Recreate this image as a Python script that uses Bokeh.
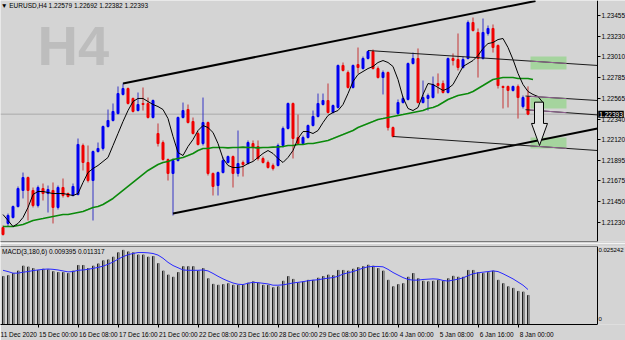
from bokeh.plotting import figure
from bokeh.layouts import column
from bokeh.models import Range1d, FixedTicker, LinearAxis, Label, ColumnDataSource
from bokeh.embed import file_html
from bokeh.resources import INLINE

BG = "#d4d4d4"
FONT = "Liberation Sans"
FS = "6.5px"
BULL = "#0000f0"
BEAR = "#f00000"

title_text = "EURUSD,H4 1.22579 1.22692 1.22382 1.22393"
macd_text = "MACD(3,180,6) 0.009395 0.011317"

open_ = [
    1.21173, 1.21217, 1.21281, 1.21399, 1.21572, 1.21711, 1.21572, 1.21410, 1.21593, 1.21539,
    1.21572, 1.21389, 1.21604, 1.21539, 1.21518, 1.21529, 1.22056, 1.21873, 1.21679, 1.21991,
    1.22024, 1.22260, 1.22325, 1.22400, 1.22605, 1.22669, 1.22562, 1.22432, 1.22508, 1.22508,
    1.22357, 1.22185, 1.22088, 1.21905, 1.21755, 1.21894, 1.22357, 1.22443, 1.22314, 1.22185,
    1.22077, 1.22303, 1.21755, 1.21625, 1.21765, 1.21873, 1.21937, 1.21755, 1.21873, 1.21862,
    1.22077, 1.22045, 1.21916, 1.21873, 1.21841, 1.21841, 1.22056, 1.22239, 1.22508, 1.22142,
    1.22077, 1.22142, 1.22271, 1.22368, 1.22497, 1.22540, 1.22411, 1.22465, 1.22917, 1.22841,
    1.22680, 1.22927, 1.22884, 1.22992, 1.23067, 1.22884, 1.22787, 1.22841, 1.22249, 1.22400,
    1.22518, 1.22551, 1.22938, 1.22992, 1.22518, 1.22562, 1.22572, 1.22723, 1.22723, 1.22626,
    1.22992, 1.22981, 1.22895, 1.22992, 1.23379, 1.23272, 1.22992, 1.23261, 1.23315, 1.23132,
    1.22691, 1.22691, 1.22648, 1.22691, 1.22475, 1.22579]
high = [
    1.21195, 1.21324, 1.21410, 1.21615, 1.21765, 1.21722, 1.21604, 1.21625, 1.21647, 1.21625,
    1.21658, 1.21625, 1.21701, 1.21550, 1.21647, 1.22131, 1.22077, 1.22056, 1.22002, 1.22088,
    1.22271, 1.22443, 1.22508, 1.22691, 1.22723, 1.22680, 1.22572, 1.22626, 1.22680, 1.22572,
    1.22551, 1.22293, 1.22110, 1.21916, 1.21916, 1.22368, 1.22518, 1.22497, 1.22357, 1.22206,
    1.22572, 1.22314, 1.21765, 1.21776, 1.21927, 1.21948, 1.21948, 1.22217, 1.21894, 1.22110,
    1.22110, 1.22110, 1.21937, 1.21894, 1.21862, 1.22077, 1.22260, 1.22518, 1.22518, 1.22389,
    1.22163, 1.22282, 1.22432, 1.22615, 1.22615, 1.22723, 1.22497, 1.22927, 1.22949, 1.22863,
    1.22927, 1.23110, 1.23013, 1.23078, 1.23089, 1.22906, 1.22863, 1.22852, 1.22260, 1.22551,
    1.22583, 1.22949, 1.23056, 1.23100, 1.22755, 1.22615, 1.22798, 1.22831, 1.22755, 1.23003,
    1.23046, 1.23261, 1.23013, 1.23401, 1.23433, 1.23315, 1.23422, 1.23347, 1.23358, 1.23143,
    1.22701, 1.22701, 1.22701, 1.22712, 1.22594, 1.22692]
low = [
    1.21087, 1.21184, 1.21270, 1.21389, 1.21486, 1.21249, 1.21389, 1.21389, 1.21464, 1.21335,
    1.21217, 1.21367, 1.21496, 1.21496, 1.21507, 1.21518, 1.21787, 1.21658, 1.21249, 1.21980,
    1.22002, 1.22249, 1.22314, 1.22389, 1.22594, 1.22497, 1.22411, 1.22422, 1.22432, 1.22346,
    1.22346, 1.22045, 1.21894, 1.21679, 1.21303, 1.21884, 1.22346, 1.22293, 1.22174, 1.22056,
    1.22056, 1.21733, 1.21518, 1.21518, 1.21755, 1.21862, 1.21604, 1.21722, 1.21722, 1.21851,
    1.21894, 1.21894, 1.21862, 1.21808, 1.21787, 1.21830, 1.22034, 1.22228, 1.21916, 1.22067,
    1.22067, 1.22131, 1.22260, 1.22357, 1.22486, 1.22400, 1.22400, 1.22454, 1.22852, 1.22669,
    1.22669, 1.22831, 1.22874, 1.22981, 1.22874, 1.22777, 1.22605, 1.22217, 1.22142, 1.22379,
    1.22508, 1.22540, 1.22927, 1.22508, 1.22508, 1.22432, 1.22562, 1.22615, 1.22615, 1.22615,
    1.22917, 1.22863, 1.22884, 1.22981, 1.23282, 1.22787, 1.22981, 1.23239, 1.23056, 1.22669,
    1.22454, 1.22465, 1.22637, 1.22346, 1.22454, 1.22382]
close_ = [
    1.21098, 1.21303, 1.21399, 1.21593, 1.21711, 1.21572, 1.21410, 1.21604, 1.21539, 1.21582,
    1.21389, 1.21604, 1.21518, 1.21507, 1.21615, 1.22067, 1.21873, 1.21679, 1.21991, 1.22024,
    1.22260, 1.22325, 1.22422, 1.22615, 1.22669, 1.22508, 1.22422, 1.22497, 1.22497, 1.22357,
    1.22540, 1.22077, 1.21905, 1.21755, 1.21894, 1.22357, 1.22432, 1.22303, 1.22185, 1.22067,
    1.22303, 1.21755, 1.21615, 1.21765, 1.21894, 1.21937, 1.21755, 1.21862, 1.21851, 1.22088,
    1.22034, 1.21916, 1.21873, 1.21819, 1.21808, 1.22056, 1.22239, 1.22508, 1.22131, 1.22077,
    1.22142, 1.22271, 1.22368, 1.22508, 1.22540, 1.22411, 1.22486, 1.22917, 1.22863, 1.22680,
    1.22917, 1.22895, 1.22992, 1.23067, 1.22884, 1.22787, 1.22841, 1.22249, 1.22153, 1.22518,
    1.22562, 1.22938, 1.22992, 1.22518, 1.22572, 1.22594, 1.22712, 1.22701, 1.22626, 1.22992,
    1.22970, 1.22895, 1.22981, 1.23379, 1.23293, 1.22992, 1.23272, 1.23315, 1.23110, 1.22701,
    1.22680, 1.22648, 1.22691, 1.22572, 1.22572, 1.22393]

ma_fast = [
    1.21313, 1.21249, 1.21184, 1.21217, 1.21281, 1.21389, 1.21529, 1.21561, 1.21561, 1.21550,
    1.21539, 1.21539, 1.21539, 1.21529, 1.21518, 1.21539, 1.21658, 1.21765, 1.21808, 1.21841,
    1.21884, 1.21927, 1.22056, 1.22185, 1.22314, 1.22432, 1.22529, 1.22562, 1.22562, 1.22529,
    1.22497, 1.22475, 1.22443, 1.22346, 1.22153, 1.21980, 1.21948, 1.22045, 1.22120, 1.22217,
    1.22271, 1.22249, 1.22196, 1.22077, 1.21916, 1.21841, 1.21819, 1.21819, 1.21830, 1.21862,
    1.21884, 1.21927, 1.21970, 1.22002, 1.21970, 1.21916, 1.21873, 1.21927, 1.22002, 1.22131,
    1.22206, 1.22206, 1.22185, 1.22217, 1.22303, 1.22379, 1.22411, 1.22432, 1.22497, 1.22615,
    1.22744, 1.22820, 1.22852, 1.22884, 1.22906, 1.22949, 1.22970, 1.22949, 1.22906, 1.22766,
    1.22572, 1.22454, 1.22432, 1.22465, 1.22605, 1.22723, 1.22712, 1.22680, 1.22648, 1.22669,
    1.22712, 1.22809, 1.22906, 1.22938, 1.22970, 1.23024, 1.23100, 1.23153, 1.23164, 1.23196,
    1.23207, 1.23110, 1.22981, 1.22831, 1.22712, 1.22637, 1.22605, 1.22583, 1.22518]
ma_slow = [
    1.21184, 1.21184, 1.21184, 1.21195, 1.21206, 1.21227, 1.21249, 1.21260, 1.21270, 1.21281,
    1.21292, 1.21303, 1.21313, 1.21313, 1.21324, 1.21335, 1.21346, 1.21367, 1.21389, 1.21399,
    1.21421, 1.21453, 1.21486, 1.21529, 1.21572, 1.21615, 1.21658, 1.21701, 1.21744, 1.21787,
    1.21819, 1.21851, 1.21873, 1.21884, 1.21905, 1.21916, 1.21927, 1.21948, 1.21970, 1.22002,
    1.22024, 1.22024, 1.22034, 1.22034, 1.22034, 1.22030, 1.22034, 1.22034, 1.22038, 1.22034,
    1.22034, 1.22030, 1.22034, 1.22034, 1.22038, 1.22040, 1.22045, 1.22056, 1.22056, 1.22067,
    1.22067, 1.22077, 1.22077, 1.22088, 1.22099, 1.22110, 1.22131, 1.22153, 1.22174, 1.22196,
    1.22217, 1.22249, 1.22271, 1.22293, 1.22314, 1.22336, 1.22346, 1.22357, 1.22368, 1.22379,
    1.22389, 1.22400, 1.22411, 1.22422, 1.22432, 1.22454, 1.22465, 1.22486, 1.22518, 1.22551,
    1.22572, 1.22594, 1.22605, 1.22615, 1.22637, 1.22669, 1.22701, 1.22734, 1.22766, 1.22777,
    1.22787, 1.22787, 1.22787, 1.22777, 1.22777, 1.22777, 1.22766]

macd_hist = [
    0.0155, 0.0158, 0.0165, 0.0173, 0.0189, 0.0186, 0.0181, 0.0175, 0.0179, 0.0177,
    0.0171, 0.0168, 0.0168, 0.0165, 0.0173, 0.0191, 0.0191, 0.0181, 0.0189, 0.0196,
    0.0206, 0.0209, 0.0218, 0.0232, 0.0240, 0.0235, 0.0232, 0.0225, 0.0225, 0.0218,
    0.0220, 0.0197, 0.0173, 0.0160, 0.0153, 0.0168, 0.0187, 0.0187, 0.0187, 0.0173,
    0.0181, 0.0148, 0.0130, 0.0127, 0.0129, 0.0132, 0.0127, 0.0127, 0.0127, 0.0134,
    0.0138, 0.0134, 0.0127, 0.0127, 0.0119, 0.0122, 0.0140, 0.0155, 0.0146, 0.0135,
    0.0138, 0.0143, 0.0143, 0.0150, 0.0155, 0.0160, 0.0158, 0.0175, 0.0175, 0.0173,
    0.0179, 0.0184, 0.0187, 0.0192, 0.0189, 0.0181, 0.0173, 0.0143, 0.0122, 0.0129,
    0.0132, 0.0153, 0.0165, 0.0148, 0.0140, 0.0138, 0.0140, 0.0143, 0.0140, 0.0148,
    0.0156, 0.0153, 0.0153, 0.0175, 0.0175, 0.0168, 0.0165, 0.0168, 0.0173, 0.0143,
    0.0132, 0.0122, 0.0117, 0.0107, 0.0105, 0.009395]
macd_signal = [
    0.01754, 0.01713, 0.01662, 0.01662, 0.01693, 0.01713, 0.01744, 0.01765, 0.01785, 0.01796,
    0.01785, 0.01765, 0.01734, 0.01703, 0.01713, 0.01754, 0.01765, 0.01785, 0.01816, 0.01847,
    0.01888, 0.01949, 0.02021, 0.02114, 0.02196, 0.02257, 0.02298, 0.02329, 0.02329, 0.02319,
    0.02298, 0.02247, 0.02144, 0.02011, 0.01908, 0.01837, 0.01765, 0.01754, 0.01754, 0.01754,
    0.01765, 0.01734, 0.01652, 0.01560, 0.01477, 0.01406, 0.01344, 0.01303, 0.01293, 0.01334,
    0.01365, 0.01354, 0.01334, 0.01313, 0.01272, 0.01272, 0.01283, 0.01313, 0.01344, 0.01365,
    0.01385, 0.01416, 0.01436, 0.01447, 0.01477, 0.01498, 0.01518, 0.01560, 0.01631, 0.01672,
    0.01713, 0.01765, 0.01826, 0.01867, 0.01878, 0.01878, 0.01867, 0.01785, 0.01683, 0.01600,
    0.01518, 0.01457, 0.01436, 0.01436, 0.01457, 0.01467, 0.01477, 0.01467, 0.01426, 0.01406,
    0.01436, 0.01467, 0.01508, 0.01580, 0.01642, 0.01672, 0.01693, 0.01713, 0.01734, 0.01713,
    0.01642, 0.01560, 0.01477, 0.01375, 0.01272, 0.011317]

price_ticks = [1.23455, 1.23230, 1.23010, 1.22785, 1.22565, 1.22340,
               1.22120, 1.21895, 1.21675, 1.21450, 1.21230, 1.21005]
last_price = 1.22393
macd_top_label = "0.025242"

time_tick_bars = [-1, 7, 15, 23, 31, 39, 47, 55, 63, 71, 79, 87, 95, 103]
time_tick_labels = ["11 Dec 2020", "15 Dec 00:00", "16 Dec 08:00", "17 Dec 16:00",
                    "21 Dec 00:00", "22 Dec 08:00", "23 Dec 16:00", "28 Dec 00:00",
                    "29 Dec 08:00", "30 Dec 16:00", "4 Jan 00:00", "5 Jan 08:00",
                    "6 Jan 16:00", "8 Jan 00:00"]

# drawn objects (bar index, price)
trend_top = ([24, 106.5], [1.22723, 1.23611])
trend_bottom = ([34, 118.9], [1.21324, 1.22238])
thin_lines = [
    ([73, 118.9], [1.23078, 1.22917]),
    ([78, 118.9], [1.22153, 1.22002]),
    ([104.5, 118.9], [1.22588, 1.22540]),
    ([104.5, 118.9], [1.22441, 1.22385]),
]
box_left = [105.5, 105.5, 105.5]
box_right = [112.7, 112.7, 112.7]
box_top = [1.23013, 1.22572, 1.22142]
box_bottom = [1.22874, 1.22454, 1.22024]
arrow_x = [106.3, 108.1, 108.1, 108.9, 107.3, 105.7, 106.3]
arrow_y = [1.22522, 1.22522, 1.22293, 1.22293, 1.22056, 1.22293, 1.22293]

AXIS_X = 118.9          # bar-index position of the price scale line
X_END = 124.5           # right edge of the window in bar units

# ---------------- main price panel ----------------
n = len(close_)
idx = list(range(n))
is_bull = [c >= o for o, c in zip(open_, close_)]
src = ColumnDataSource(dict(
    x=idx,
    top=[max(o, c) for o, c in zip(open_, close_)],
    bottom=[min(o, c) for o, c in zip(open_, close_)],
    high=high, low=low,
    color=[BULL if b else BEAR for b in is_bull],
    wick=["#3434c4" if b else "#c43434" for b in is_bull],
))

xr = Range1d(-0.5, X_END)
p = figure(width=625, height=243, x_range=xr, y_range=Range1d(1.21023, 1.23616),
           output_backend="svg", toolbar_location=None,
           y_axis_location="right", x_axis_location="below",
           min_border_left=0, min_border_top=0, min_border_bottom=2, min_border_right=0,
           background_fill_color=BG, border_fill_color=BG, outline_line_color=None)
p.grid.visible = False

yax = p.right[0]
yax.fixed_location = AXIS_X
yax.ticker = FixedTicker(ticks=price_ticks)
yax.major_label_overrides = {t: f"{t:.5f}" for t in price_ticks}
yax.major_label_text_font_size = FS
yax.major_label_text_font = FONT
yax.major_label_text_color = "black"
yax.major_tick_out = 3
yax.major_tick_in = 0
yax.minor_tick_out = 0
yax.minor_tick_in = 0
yax.major_label_standoff = 1
yax.axis_line_color = "black"
yax.major_tick_line_color = "black"

xax = p.below[0]
xax.ticker = FixedTicker(ticks=[])
xax.bounds = (-0.5, AXIS_X)
xax.axis_line_color = "#7a7a7a"
xax.major_tick_out = 0
xax.major_tick_in = 0
xax.minor_tick_out = 0
xax.minor_tick_in = 0
xax.major_label_standoff = 0

p.line([-0.5, AXIS_X], [last_price, last_price], line_color="#ababab", line_width=1)

p.add_layout(Label(x=6.9, y=1.22798, text="H4", text_font=FONT, text_font_size="56px",
                   text_font_style="bold", text_color="#bdbdbd", level="underlay"))
p.add_layout(Label(x=-0.4, y=1.23560, text="\u25bc " + title_text, text_font=FONT,
                   text_font_size=FS, text_color="black", text_baseline="middle"))

p.quad(left=box_left, right=box_right, top=box_top, bottom=box_bottom,
       fill_color="#a5d49e", line_color=None)

p.segment(x0="x", y0="low", x1="x", y1="high", line_color="wick", line_width=1, source=src)
p.vbar(x="x", top="top", bottom="bottom", width=0.4, fill_color="color",
       line_color="color", line_width=1, source=src)

p.line(list(range(len(ma_slow))), ma_slow, line_color="#0b8a0b", line_width=1.6)
p.line(list(range(len(ma_fast))), ma_fast, line_color="black", line_width=1)

p.line(trend_top[0], trend_top[1], line_color="black", line_width=2)
p.line(trend_bottom[0], trend_bottom[1], line_color="black", line_width=2)

for xs, ys in thin_lines:
    p.line(xs, ys, line_color="#1a1a1a", line_width=1)

    def at(xv, xs=xs, ys=ys):
        return ys[0] + (ys[1] - ys[0]) * (xv - xs[0]) / (xs[1] - xs[0])
    a = max(xs[0], box_left[0])
    b = box_right[0]
    p.line([a, b], [at(a), at(b)], line_color="#946494", line_width=1)

p.patch(arrow_x, arrow_y, fill_color="#e2e2e2", line_color="black", line_width=1)

p.add_layout(Label(x=AXIS_X + 0.15, y=last_price, text=f"{last_price:.5f}",
                   text_font=FONT, text_font_size=FS, text_color="white",
                   text_baseline="middle", background_fill_color="black", padding=1))

# ---------------- MACD panel ----------------
p2 = figure(width=625, height=97, x_range=xr, y_range=Range1d(0, 0.025242),
            output_backend="svg", toolbar_location=None,
            y_axis_location="right", x_axis_location="below",
            min_border_left=0, min_border_top=3, min_border_bottom=12, min_border_right=0,
            background_fill_color=BG, border_fill_color=BG, outline_line_color=None)
p2.grid.visible = False

top_ax = LinearAxis(ticker=FixedTicker(ticks=[]), axis_line_color="#7a7a7a",
                    major_tick_out=0, major_tick_in=0, minor_tick_out=0, minor_tick_in=0,
                    major_label_standoff=0, bounds=(-0.5, AXIS_X))
p2.add_layout(top_ax, "above")

y2 = p2.right[0]
y2.fixed_location = AXIS_X
macd_tick_vals = [0.02401, 0.00185]
y2.ticker = FixedTicker(ticks=macd_tick_vals)
y2.major_label_overrides = {macd_tick_vals[0]: macd_top_label, macd_tick_vals[1]: "0"}
y2.major_label_text_font_size = "6px"
y2.major_label_text_font = FONT
y2.major_label_text_color = "black"
y2.major_tick_out = 0
y2.major_tick_in = 0
y2.minor_tick_out = 0
y2.minor_tick_in = 0
y2.major_label_standoff = 1
y2.axis_line_color = "black"

label_pos = []
for t, s in zip(time_tick_bars, time_tick_labels):
    shift = 3.58 if t < 0 else round(0.34 * len(s), 2)
    label_pos.append(round(t + shift, 2))
x2 = p2.below[0]
x2.ticker = FixedTicker(ticks=label_pos, minor_ticks=[t for t in time_tick_bars if t >= 0])
x2.major_label_overrides = {lp: s for lp, s in zip(label_pos, time_tick_labels)}
x2.bounds = (-0.5, AXIS_X)
x2.major_label_text_font_size = FS
x2.major_label_text_font = FONT
x2.major_label_text_color = "black"
x2.major_tick_out = 0
x2.major_tick_in = 0
x2.minor_tick_out = 3
x2.minor_tick_in = 0
x2.minor_tick_line_color = "black"
x2.major_label_standoff = 3
x2.axis_line_color = "black"

p2.vbar(x=idx, top=macd_hist, bottom=0, width=0.2, color="#1e1e1e")
p2.vbar(x=[i + 0.2 for i in idx], top=macd_hist, bottom=0, width=0.2, color="#8c8c8c")
p2.line(idx, macd_signal, line_color="#2828ff", line_width=1)
p2.add_layout(Label(x=-0.2, y=0.0237, text=macd_text, text_font=FONT, text_font_size=FS,
                    text_color="black", text_baseline="middle"))

layout = column(p, p2, spacing=0)
open("out.html", "w").write(file_html(layout, INLINE))
